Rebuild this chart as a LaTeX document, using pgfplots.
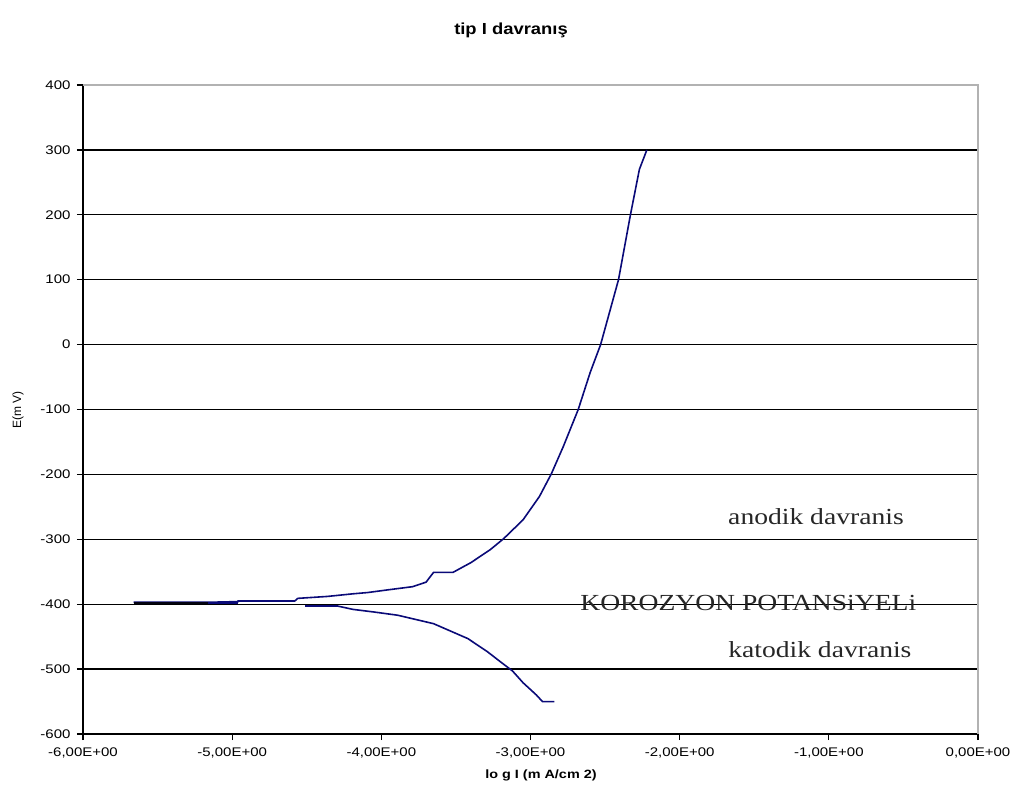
\documentclass[border=0pt]{standalone}
\usepackage{graphicx}
\usepackage{pgfplots}
\pgfplotsset{compat=1.18}
\usepackage{fontspec}
\setmainfont{Liberation Serif}
\setsansfont{Liberation Sans}
\definecolor{curve}{RGB}{10,10,120}
\newcommand{\Sx}[1]{\scalebox{1.2}[1]{#1}}
\begin{document}
\begin{tikzpicture}[x=1pt,y=1pt]
\path[use as bounding box] (0,0) rectangle (1017,796);
\begin{axis}[
  at={(83pt,62pt)}, anchor=south west,
  scale only axis, width=895pt, height=649pt,
  xmin=-6, xmax=0, ymin=-600, ymax=400,
  axis x line*=bottom, axis y line*=left,
  axis line style={black, line width=1.3pt, -},
  xtick={-6,-5,-4,-3,-2,-1,0},
  xticklabels={{\Sx{-6,00E+00}},{\Sx{-5,00E+00}},{\Sx{-4,00E+00}},{\Sx{-3,00E+00}},{\Sx{-2,00E+00}},{\Sx{-1,00E+00}},{\Sx{0,00E+00}}},
  ytick={-600,-500,-400,-300,-200,-100,0,100,200,300,400},
  yticklabels={\Sx{-600},\Sx{-500},\Sx{-400},\Sx{-300},\Sx{-200},\Sx{-100},\Sx{0},\Sx{100},\Sx{200},\Sx{300},\Sx{400}},
  tick label style={font=\sffamily\fontsize{12.5}{13}\selectfont, black},
  xticklabel style={yshift=-4pt},
  yticklabel style={xshift=-3pt},
  tick align=outside, major tick length=6pt,
  tick style={black, line width=1.3pt},
  ymajorgrids, grid style={black, line width=1.3pt},
  clip=false,
]
\draw[gray!60, line width=1.3pt] (rel axis cs:0,1) -- (rel axis cs:1,1) -- (rel axis cs:1,0);
% anodic branch
\addplot[curve, line width=1.6pt, mark=none] coordinates {
(-5.66,-397) (-5.16,-397) (-4.96,-396) (-4.96,-395) (-4.58,-395) (-4.56,-391)
(-4.36,-388) (-4.19,-384) (-4.09,-382) (-3.96,-378) (-3.79,-373) (-3.70,-366)
(-3.65,-351) (-3.52,-351) (-3.40,-336) (-3.27,-316) (-3.18,-299) (-3.05,-270)
(-2.94,-234) (-2.86,-199) (-2.78,-157) (-2.68,-100) (-2.60,-43) (-2.53,0)
(-2.47,50) (-2.41,100) (-2.37,150) (-2.33,200) (-2.27,270) (-2.22,300)
};
% thick overlapping start
\addplot[black!85!curve, line width=2.6pt, mark=none] coordinates {(-5.66,-398) (-5.16,-398)};
\addplot[curve, line width=2.6pt, mark=none] coordinates {(-5.16,-398) (-4.96,-398)};
% cathodic branch
\addplot[curve, line width=1.6pt, mark=none] coordinates {
(-4.51,-403) (-4.29,-403) (-4.19,-408) (-4.05,-412) (-3.89,-417) (-3.65,-430)
(-3.42,-453) (-3.29,-473) (-3.20,-489) (-3.12,-503) (-3.05,-521) (-2.96,-540)
(-2.92,-550) (-2.84,-550)
};
\addplot[curve, line width=2.6pt, mark=none] coordinates {(-4.51,-403) (-4.29,-403)};
\node[font=\fontsize{23}{24}\selectfont, black!85] at (axis cs:-1.086,-265) {\Sx{anodik davranis}};
\node[font=\fontsize{23}{24}\selectfont, black!85, anchor=base] at (axis cs:-1.54,-410) {\Sx{KOROZYON POTANSiYELi}};
\node[font=\fontsize{23}{24}\selectfont, black!85] at (axis cs:-1.06,-470) {\Sx{katodik davranis}};
\end{axis}
\node[font=\sffamily\bfseries\fontsize{16}{17}\selectfont] at (511,766) {\scalebox{1.15}[1]{tip I davranış}};
\node[font=\sffamily\fontsize{12}{13}\selectfont, rotate=90] at (18,386) {E(m V)};
\node[font=\sffamily\bfseries\fontsize{12}{13}\selectfont] at (541,21) {\Sx{lo g I (m A/cm 2)}};
\end{tikzpicture}
\end{document}
